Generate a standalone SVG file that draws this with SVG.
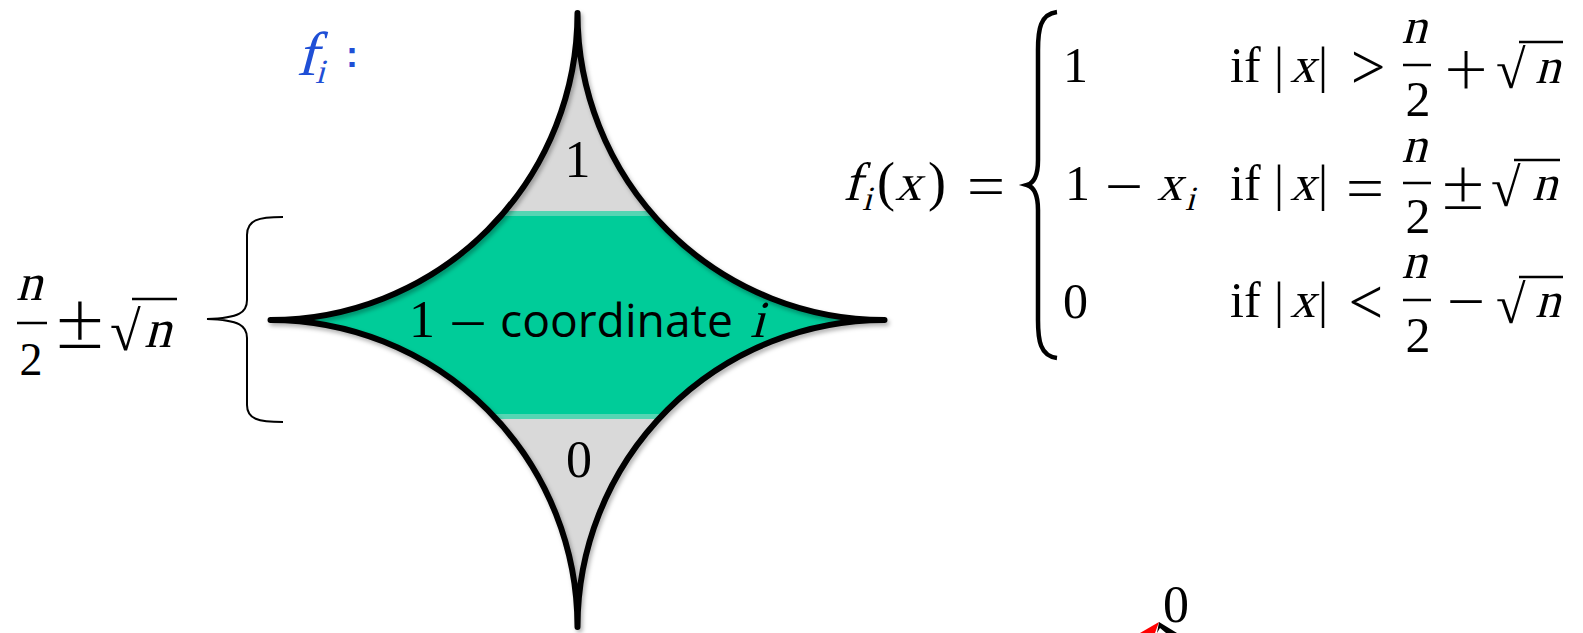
<svg xmlns="http://www.w3.org/2000/svg" width="1583" height="633" viewBox="0 0 1583 633">
<defs>
<style>
.m{font-family:"Liberation Serif","DejaVu Serif",serif;font-size:50px;fill:#000}
.op{font-family:"Lato","DejaVu Sans",sans-serif;font-weight:300;font-size:76px;fill:#000;text-anchor:middle}
.c{text-anchor:middle}
.sub{font-size:34px}
.sans{font-family:"Open Sans","Liberation Sans",sans-serif;font-size:45px;font-weight:500;fill:#000}
.bar{stroke:#000;stroke-width:2.5}
.vin{stroke:#000;stroke-width:2.5}
.ln{fill:none;stroke:#000}
.blue{fill:#1f4fd6}
</style>
<clipPath id="clipStar"><path d="M577.5,13 A307,307 0 0 0 884.5,320 A307,307 0 0 0 577.5,627 A307,307 0 0 0 270.5,320 A307,307 0 0 0 577.5,13 Z"/></clipPath>
<filter id="sh" x="-10%" y="-10%" width="120%" height="120%"><feDropShadow dx="2" dy="3" stdDeviation="2" flood-color="#000" flood-opacity="0.3"/></filter>
</defs>
<rect width="1583" height="633" fill="#fff"/>

<g id="star">
 <g clip-path="url(#clipStar)">
  <rect x="260" y="0" width="640" height="633" fill="#d9d9d9"/>
  <rect x="260" y="211" width="640" height="208" fill="#56d5b3"/>
  <rect x="260" y="216" width="640" height="198" fill="#00cc99"/>
 </g>
 <path d="M577.5,13 A307,307 0 0 0 884.5,320 A307,307 0 0 0 577.5,627 A307,307 0 0 0 270.5,320 A307,307 0 0 0 577.5,13 Z" fill="none" stroke="#000" stroke-width="6" stroke-linejoin="round" filter="url(#sh)"/>
 <text class="m c" x="577.5" y="177" style="font-size:52px">1</text>
 <text class="m c" x="579" y="477" style="font-size:52px">0</text>
 <text class="m" x="409" y="337" style="font-size:52px">1</text>
 <text class="op" x="468" y="349">−</text>
 <text class="sans" x="500" y="337" textLength="233" lengthAdjust="spacingAndGlyphs">coordinate</text>
 <text class="m" transform="translate(750,337) skewX(-15)" style="font-size:52px">i</text>
</g>

<g id="label-fi">
 <text class="m blue" transform="translate(296,75) skewX(-15)" style="font-size:62px">f</text>
 <text class="m blue sub" transform="translate(315,83) skewX(-15)">i</text>
 <text x="346" y="67" style="font-family:'Liberation Sans',sans-serif;font-weight:bold;font-size:36px" class="blue">:</text>
</g>

<g id="label-range">
 <text class="m c" transform="translate(29,300) skewX(-15)" style="font-size:52px">n</text>
 <line class="bar" x1="17" y1="323" x2="47" y2="323"/>
 <text class="m c" x="31" y="375" style="font-size:46px">2</text>
 <text class="op" x="80" y="351" style="font-size:86px">±</text>
 <text class="m" x="110" y="350" style="font-size:56px">√</text>
 <line class="vin" x1="132" y1="299" x2="177" y2="299"/>
 <text class="m" transform="translate(144,347) skewX(-15)" style="font-size:54px">n</text>
</g>

<g id="connectors">
 <path class="ln" stroke-width="2" d="M283,217 C258,217 247,220 247,235 L247,300 C247,312 240,318 207,319 C240,320 247,326 247,338 L247,405 C247,419 258,422 283,422"/>
</g>

<g id="formula">
 <text class="m" transform="translate(843,200) skewX(-15)" style="font-size:54px">f</text>
 <text class="m sub" transform="translate(862,210) skewX(-15)">i</text>
 <text class="m" x="877" y="200" style="font-size:54px">(</text>
 <text class="m" transform="translate(895,200) skewX(-15)" style="font-size:52px">x</text>
 <text class="m" x="928" y="200" style="font-size:54px">)</text>
 <text class="op" x="986" y="213">=</text>
 <path class="ln" stroke-width="4.5" d="M1057,12 C1040,14 1038,30 1038,50 L1038,160 C1038,175 1034,183 1027,185 C1034,187 1038,195 1038,210 L1038,320 C1038,340 1040,356 1057,358"/>

 <text class="m" x="1063" y="82">1</text>
 <text class="m" x="1230" y="82">if</text>
 <text class="m c" x="1279" y="82">|</text>
 <text class="m" transform="translate(1290,82) skewX(-15)">x</text>
 <text class="m c" x="1323" y="82">|</text>
 <text class="op" x="1367" y="93">&gt;</text>
 <text class="m c" transform="translate(1414,43) skewX(-15)">n</text>
 <line class="bar" x1="1403" y1="65" x2="1431" y2="65"/>
 <text class="m c" x="1418" y="116">2</text>
 <text class="op" x="1466" y="95">+</text>
 <text class="m" x="1496" y="88" style="font-size:54px">√</text>
 <line class="vin" x1="1519" y1="42" x2="1563" y2="42"/>
 <text class="m" transform="translate(1535,83) skewX(-15)">n</text>

 <text class="m" x="1065" y="200">1</text>
 <text class="op" x="1124" y="212">−</text>
 <text class="m" transform="translate(1157,200) skewX(-15)">x</text>
 <text class="m sub" transform="translate(1185,210) skewX(-15)">i</text>
 <text class="m" x="1230" y="200">if</text>
 <text class="m c" x="1279" y="200">|</text>
 <text class="m" transform="translate(1290,200) skewX(-15)">x</text>
 <text class="m c" x="1323" y="200">|</text>
 <text class="op" x="1365" y="215">=</text>
 <text class="m c" transform="translate(1414,162) skewX(-15)">n</text>
 <line class="bar" x1="1403" y1="183" x2="1431" y2="183"/>
 <text class="m c" x="1418" y="233">2</text>
 <text class="op" x="1463" y="212">±</text>
 <text class="m" x="1491" y="206" style="font-size:54px">√</text>
 <line class="vin" x1="1514" y1="160" x2="1560" y2="160"/>
 <text class="m" transform="translate(1532,200) skewX(-15)">n</text>

 <text class="m" x="1063" y="318">0</text>
 <text class="m" x="1230" y="317">if</text>
 <text class="m c" x="1279" y="317">|</text>
 <text class="m" transform="translate(1290,317) skewX(-15)">x</text>
 <text class="m c" x="1323" y="317">|</text>
 <text class="op" x="1367" y="328">&lt;</text>
 <text class="m c" transform="translate(1414,278) skewX(-15)">n</text>
 <line class="bar" x1="1403" y1="300" x2="1431" y2="300"/>
 <text class="m c" x="1418" y="352">2</text>
 <text class="op" x="1466" y="327">−</text>
 <text class="m" x="1496" y="323" style="font-size:54px">√</text>
 <line class="vin" x1="1519" y1="277" x2="1563" y2="277"/>
 <text class="m" transform="translate(1535,317) skewX(-15)">n</text>
</g>

<g id="fragment">
 <text class="m c" x="1176" y="622" style="font-size:52px">0</text>
 <polygon points="1140,633 1159,622 1155,633" fill="#ff0000"/>
 <polygon points="1159,622 1177,633 1166,633 1160,628 1157,633" fill="#000"/>
</g>
</svg>
